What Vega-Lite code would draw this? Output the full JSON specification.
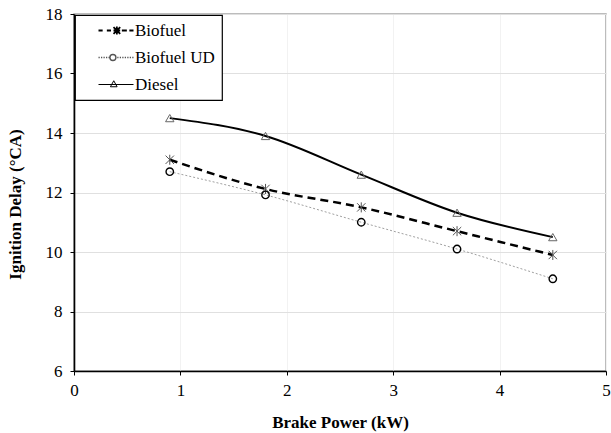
{
  "$schema": "https://vega.github.io/schema/vega-lite/v6.json",
  "width": 532,
  "height": 357,
  "autosize": {"type": "none"},
  "padding": {"left": 74, "top": 14, "right": 5, "bottom": 62},
  "background": "white",
  "datasets": {
    "pts": [
      {"series": "Biofuel", "power": 0.9, "delay": 13.1},
      {"series": "Biofuel", "power": 1.8, "delay": 12.12},
      {"series": "Biofuel", "power": 2.7, "delay": 11.5},
      {"series": "Biofuel", "power": 3.6, "delay": 10.7},
      {"series": "Biofuel", "power": 4.5, "delay": 9.9},
      {"series": "Biofuel UD", "power": 0.9, "delay": 12.7},
      {"series": "Biofuel UD", "power": 1.8, "delay": 11.92},
      {"series": "Biofuel UD", "power": 2.7, "delay": 11.0},
      {"series": "Biofuel UD", "power": 3.6, "delay": 10.1},
      {"series": "Biofuel UD", "power": 4.5, "delay": 9.1},
      {"series": "Diesel", "power": 0.9, "delay": 14.5},
      {"series": "Diesel", "power": 1.8, "delay": 13.9},
      {"series": "Diesel", "power": 2.7, "delay": 12.6},
      {"series": "Diesel", "power": 3.6, "delay": 11.32},
      {"series": "Diesel", "power": 4.5, "delay": 10.5}
    ]
  },
  "data": {"name": "pts"},
  "config": {
    "view": {"stroke": "#a6a6a6", "strokeWidth": 1.5},
    "font": "Liberation Serif",
    "axis": {
      "labelFont": "Liberation Serif",
      "labelFontSize": 17,
      "labelColor": "#000000",
      "titleFont": "Liberation Serif",
      "titleFontSize": 17,
      "titleFontWeight": "bold",
      "titleColor": "#000000",
      "domainColor": "#000000",
      "domainWidth": 1.6,
      "tickColor": "#000000",
      "tickSize": 4,
      "tickWidth": 1,
      "labelFlush": false,
      "labelOverlap": false
    },
    "legend": {
      "labelFont": "Liberation Serif",
      "labelFontSize": 17,
      "labelColor": "#000000",
      "strokeColor": "#000000",
      "fillColor": "#ffffff",
      "strokeWidth": 1.2,
      "padding": 7,
      "rowPadding": 9,
      "symbolSize": 100,
      "labelOffset": 36,
      "orient": "top-left",
      "offset": 1
    }
  },
  "encoding": {
    "x": {
      "field": "power",
      "type": "quantitative",
      "scale": {"domain": [0, 5], "nice": false},
      "axis": {
        "title": "Brake Power (kW)",
        "values": [0, 1, 2, 3, 4, 5],
        "gridColor": "#f2f2f2",
        "labelPadding": 7,
        "titlePadding": 16
      }
    },
    "y": {
      "field": "delay",
      "type": "quantitative",
      "scale": {"domain": [6, 18], "nice": false},
      "axis": {
        "title": "Ignition Delay (°CA)",
        "values": [6, 8, 10, 12, 14, 16, 18],
        "gridColor": "#e0e0e0",
        "labelPadding": 8,
        "titlePadding": 21,
        "titleY": 190
      }
    }
  },
  "layer": [
    {
      "transform": [{"filter": "datum.series === 'Biofuel UD'"}],
      "mark": {"type": "line", "interpolate": "monotone", "stroke": "#a0a0a0", "strokeWidth": 1, "strokeDash": [2, 2]}
    },
    {
      "transform": [{"filter": "datum.series === 'Biofuel'"}],
      "mark": {"type": "line", "interpolate": "monotone", "stroke": "#000000", "strokeWidth": 2.5, "strokeDash": [8, 5]}
    },
    {
      "transform": [{"filter": "datum.series === 'Diesel'"}],
      "mark": {"type": "line", "interpolate": "monotone", "stroke": "#000000", "strokeWidth": 2}
    },
    {
      "transform": [{"filter": "datum.series === 'Biofuel'"}],
      "mark": {"type": "point", "shape": "M-1,-1L1,1M-1,1L1,-1M0,-1.2L0,1.2", "size": 70, "filled": false, "stroke": "#555555", "strokeWidth": 1, "opacity": 1}
    },
    {
      "transform": [{"filter": "datum.series === 'Biofuel UD'"}],
      "mark": {"type": "point", "shape": "circle", "size": 55, "filled": false, "stroke": "#000000", "strokeWidth": 1.4, "opacity": 1}
    },
    {
      "transform": [{"filter": "datum.series === 'Diesel'"}],
      "mark": {"type": "point", "shape": "triangle-up", "size": 70, "filled": false, "stroke": "#666666", "strokeWidth": 1, "opacity": 1}
    },
    {
      "data": {"values": []},
      "mark": {"type": "point", "filled": false, "opacity": 1},
      "encoding": {
        "shape": {
          "field": "series",
          "type": "nominal",
          "scale": {
            "domain": ["Biofuel", "Biofuel UD", "Diesel"],
            "range": [
              "M1.6,0H2.43M3.27,0H4.1M4.6,0H5.93M6.27,0H7.27M7.77,0H8.6M4.6,-0.67L5.94,0.67M4.6,0.67L5.94,-0.67M5.27,-0.8V0.8",
              "M1.6,0H1.85M2.1,0H2.35M2.6,0H2.85M3.1,0H3.35M3.6,0H3.85M5.08,0A0.6,0.6,0,1,1,3.88,0A0.6,0.6,0,1,1,5.08,0M5.35,0H5.6M5.85,0H6.1M6.35,0H6.6M6.85,0H7.1M7.35,0H7.6M7.85,0H8.1M8.35,0H8.6",
              "M1.6,0H8.6M4.65,-0.75L5.32,0.45L3.98,0.45Z"
            ]
          },
          "legend": {"title": null, "labelFont": "Liberation Serif", "labelExpr": "datum.label + '\u2002\u2002'"}
        },
        "stroke": {
          "field": "series",
          "type": "nominal",
          "scale": {"domain": ["Biofuel", "Biofuel UD", "Diesel"], "range": ["#000000", "#555555", "#000000"]},
          "legend": {"title": null, "labelFont": "Liberation Serif", "labelExpr": "datum.label + '\u2002\u2002'"}
        },
        "strokeWidth": {
          "field": "series",
          "type": "nominal",
          "scale": {"domain": ["Biofuel", "Biofuel UD", "Diesel"], "range": [1.8, 1, 1.8]},
          "legend": {"title": null, "labelFont": "Liberation Serif", "labelExpr": "datum.label + '\u2002\u2002'"}
        }
      }
    }
  ]
}
